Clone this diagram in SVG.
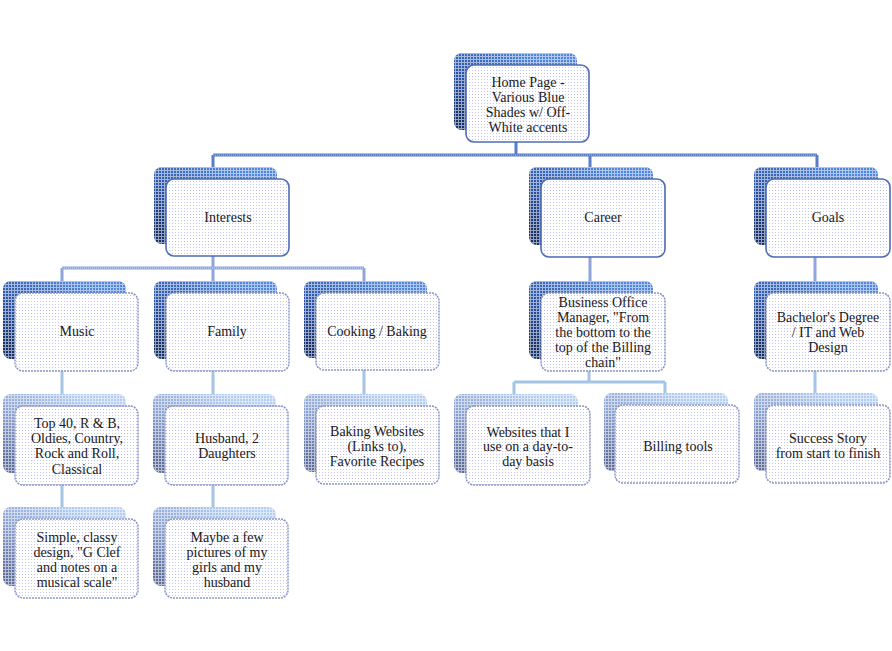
<svg xmlns="http://www.w3.org/2000/svg" width="892" height="651" viewBox="0 0 892 651">
<defs>
  <linearGradient id="gDark" x1="0" y1="0.8" x2="0.6" y2="0">
    <stop offset="0" stop-color="#16306a"/>
    <stop offset="0.45" stop-color="#2a52a4"/>
    <stop offset="1" stop-color="#4f86dc"/>
  </linearGradient>
  <linearGradient id="gLight" x1="0" y1="0.8" x2="0.6" y2="0">
    <stop offset="0" stop-color="#5f6f9c"/>
    <stop offset="0.5" stop-color="#8ea4d2"/>
    <stop offset="1" stop-color="#b4cef2"/>
  </linearGradient>
  <pattern id="grid" width="3" height="3" patternUnits="userSpaceOnUse">
    <rect x="0" y="2" width="3" height="1" fill="#ffffff" fill-opacity="0.55"/>
    <rect x="2" y="0" width="1" height="2" fill="#ffffff" fill-opacity="0.55"/>
  </pattern>
  <pattern id="dots" width="3" height="3" patternUnits="userSpaceOnUse">
    <rect width="3" height="3" fill="#ffffff"/>
    <rect x="1" y="1" width="1" height="1" fill="#c4c4f2"/>
  </pattern>
</defs>
<style>
  .sd { fill: url(#gDark); }
  .sl { fill: url(#gLight); }
  .gr { fill: url(#grid); }
  .fr { fill: url(#dots); stroke: #8a96c4; stroke-width: 1.5; stroke-dasharray: 2 1; }
  .frd { fill: url(#dots); stroke: #4e6db4; stroke-width: 1.6; }
  text { font-family: "Liberation Serif", "Times New Roman", serif; font-size: 14px; fill: #1a1a1a; text-anchor: middle; }
  .c0 { fill: none; stroke: #5b7cc6; stroke-width: 3; }
  .c0i { fill: none; stroke: #a9bde6; stroke-width: 1; stroke-dasharray: 1 1; }
  .c1 { fill: none; stroke: #8ea6dc; stroke-width: 3; }
  .c1i { fill: none; stroke: #d0dcf4; stroke-width: 1; stroke-dasharray: 1 1; }
  .c2 { fill: none; stroke: #a6c4e6; stroke-width: 3; }
</style>

<g id="connectors">
  <path class="c0" d="M516,142 V155 M213,155 H817 M213,155 V167 M590,155 V167 M817,155 V167"/>
  <path class="c0i" d="M213,155 H817"/>
  <path class="c1" d="M213,256 V268 M62,268 H364 M62,268 V281 M213,268 V281 M364,268 V281 M590,257 V281 M815,257 V281"/>
  <path class="c1i" d="M62,268 H364"/>
  <path class="c2" d="M62,371 V394 M213,371 V394 M364,370 V394 M589,371 V382 M514,382 H665 M514,382 V394 M665,382 V393 M815,371 V393 M62,485 V507 M213,485 V507"/>
</g>

<g id="home">
  <rect class="sd" x="454" y="53" width="123" height="77" rx="8"/>
  <rect class="gr" x="454" y="53" width="123" height="77" rx="8"/>
  <rect class="frd" x="466" y="65" width="123" height="77" rx="8"/>
  <text x="528" y="87">Home Page -</text>
  <text x="528" y="102">Various Blue</text>
  <text x="528" y="117">Shades w/ Off-</text>
  <text x="528" y="132">White accents</text>
</g>

<g id="interests">
  <rect class="sd" x="154" y="167" width="123" height="77" rx="8"/>
  <rect class="gr" x="154" y="167" width="123" height="77" rx="8"/>
  <rect class="frd" x="166" y="179" width="123" height="77" rx="8"/>
  <text x="228" y="222">Interests</text>
</g>

<g id="career">
  <rect class="sd" x="529" y="167" width="124" height="78" rx="8"/>
  <rect class="gr" x="529" y="167" width="124" height="78" rx="8"/>
  <rect class="frd" x="541" y="179" width="124" height="78" rx="8"/>
  <text x="603" y="222">Career</text>
</g>

<g id="goals">
  <rect class="sd" x="754" y="167" width="124" height="78" rx="8"/>
  <rect class="gr" x="754" y="167" width="124" height="78" rx="8"/>
  <rect class="frd" x="766" y="179" width="124" height="78" rx="8"/>
  <text x="828" y="222">Goals</text>
</g>

<g id="music">
  <rect class="sd" x="3" y="281" width="123" height="78" rx="8"/>
  <rect class="gr" x="3" y="281" width="123" height="78" rx="8"/>
  <rect class="fr" x="15" y="293" width="123" height="78" rx="8"/>
  <text x="77" y="336">Music</text>
</g>

<g id="family">
  <rect class="sd" x="154" y="281" width="123" height="78" rx="8"/>
  <rect class="gr" x="154" y="281" width="123" height="78" rx="8"/>
  <rect class="fr" x="166" y="293" width="123" height="78" rx="8"/>
  <text x="227" y="336">Family</text>
</g>

<g id="cooking">
  <rect class="sd" x="304" y="281" width="123" height="77" rx="8"/>
  <rect class="gr" x="304" y="281" width="123" height="77" rx="8"/>
  <rect class="fr" x="316" y="293" width="123" height="77" rx="8"/>
  <text x="377" y="336">Cooking / Baking</text>
</g>

<g id="business">
  <rect class="sd" x="529" y="281" width="124" height="78" rx="8"/>
  <rect class="gr" x="529" y="281" width="124" height="78" rx="8"/>
  <rect class="fr" x="541" y="293" width="124" height="78" rx="8"/>
  <text x="603" y="307">Business Office</text>
  <text x="603" y="322">Manager, "From</text>
  <text x="603" y="337">the bottom to the</text>
  <text x="603" y="352">top of the Billing</text>
  <text x="603" y="367">chain"</text>
</g>

<g id="bachelors">
  <rect class="sd" x="754" y="281" width="124" height="78" rx="8"/>
  <rect class="gr" x="754" y="281" width="124" height="78" rx="8"/>
  <rect class="fr" x="766" y="293" width="124" height="78" rx="8"/>
  <text x="828" y="322">Bachelor's Degree</text>
  <text x="828" y="337">/ IT and Web</text>
  <text x="828" y="352">Design</text>
</g>

<g id="top40">
  <rect class="sl" x="3" y="394" width="123" height="79" rx="8"/>
  <rect class="gr" x="3" y="394" width="123" height="79" rx="8"/>
  <rect class="fr" x="15" y="406" width="123" height="79" rx="8"/>
  <text x="77" y="428">Top 40, R &amp; B,</text>
  <text x="77" y="443">Oldies, Country,</text>
  <text x="77" y="458">Rock and Roll,</text>
  <text x="77" y="474">Classical</text>
</g>

<g id="husband">
  <rect class="sl" x="153" y="394" width="123" height="79" rx="8"/>
  <rect class="gr" x="153" y="394" width="123" height="79" rx="8"/>
  <rect class="fr" x="165" y="406" width="123" height="79" rx="8"/>
  <text x="227" y="443">Husband, 2</text>
  <text x="227" y="458">Daughters</text>
</g>

<g id="baking">
  <rect class="sl" x="304" y="394" width="123" height="78" rx="8"/>
  <rect class="gr" x="304" y="394" width="123" height="78" rx="8"/>
  <rect class="fr" x="316" y="406" width="123" height="78" rx="8"/>
  <text x="377" y="436">Baking Websites</text>
  <text x="377" y="451">(Links to),</text>
  <text x="377" y="466">Favorite Recipes</text>
</g>

<g id="websites">
  <rect class="sl" x="454" y="394" width="124" height="79" rx="8"/>
  <rect class="gr" x="454" y="394" width="124" height="79" rx="8"/>
  <rect class="fr" x="466" y="406" width="124" height="79" rx="8"/>
  <text x="528" y="437">Websites that I</text>
  <text x="528" y="451">use on a day-to-</text>
  <text x="528" y="466">day basis</text>
</g>

<g id="billing">
  <rect class="sl" x="604" y="393" width="124" height="78" rx="8"/>
  <rect class="gr" x="604" y="393" width="124" height="78" rx="8"/>
  <rect class="fr" x="615" y="405" width="124" height="78" rx="8"/>
  <text x="678" y="451">Billing tools</text>
</g>

<g id="success">
  <rect class="sl" x="754" y="393" width="124" height="78" rx="8"/>
  <rect class="gr" x="754" y="393" width="124" height="78" rx="8"/>
  <rect class="fr" x="766" y="405" width="124" height="78" rx="8"/>
  <text x="828" y="443">Success Story</text>
  <text x="828" y="458">from start to finish</text>
</g>

<g id="simple">
  <rect class="sl" x="3" y="507" width="123" height="79" rx="8"/>
  <rect class="gr" x="3" y="507" width="123" height="79" rx="8"/>
  <rect class="fr" x="15" y="519" width="123" height="79" rx="8"/>
  <text x="77" y="542">Simple, classy</text>
  <text x="77" y="557">design, "G Clef</text>
  <text x="77" y="572">and notes on a</text>
  <text x="77" y="587">musical scale"</text>
</g>

<g id="maybe">
  <rect class="sl" x="153" y="507" width="123" height="79" rx="8"/>
  <rect class="gr" x="153" y="507" width="123" height="79" rx="8"/>
  <rect class="fr" x="165" y="519" width="123" height="79" rx="8"/>
  <text x="227" y="542">Maybe a few</text>
  <text x="227" y="557">pictures of my</text>
  <text x="227" y="572">girls and my</text>
  <text x="227" y="587">husband</text>
</g>
</svg>
